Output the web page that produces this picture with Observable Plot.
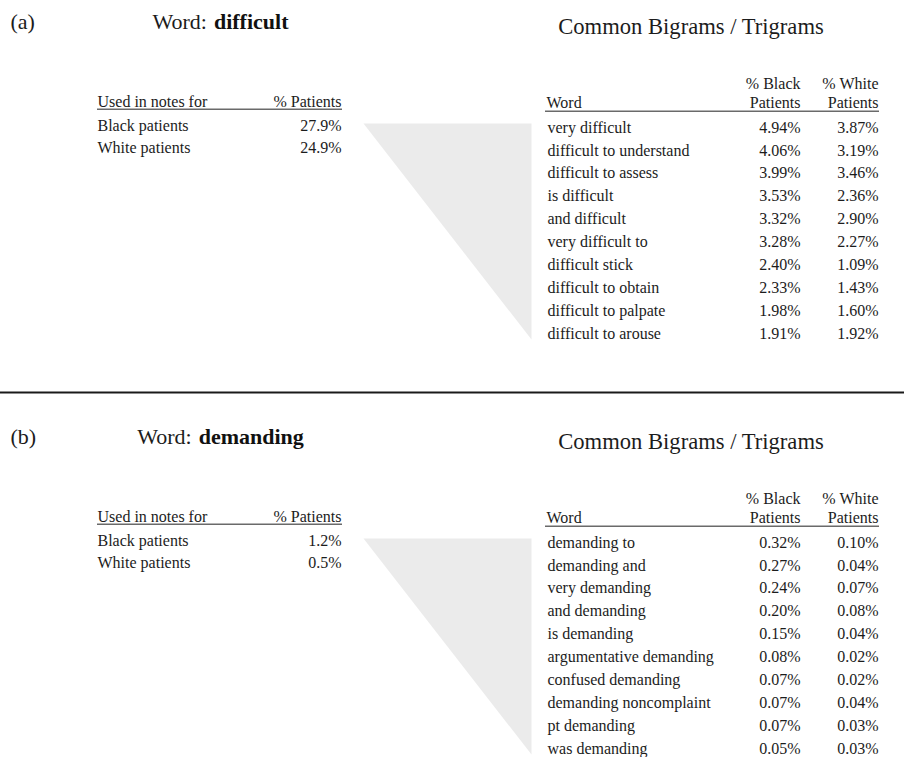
<!DOCTYPE html>
<html>
<head>
<meta charset="utf-8">
<script src="https://cdn.jsdelivr.net/npm/d3@7"></script>
<script src="https://cdn.jsdelivr.net/npm/@observablehq/plot@0.6"></script>
<style>
  html, body { margin: 0; padding: 0; background: #fff; }
  #chart svg { display: block; }
</style>
</head>
<body>
<div id="chart"></div>
<script>
// ---------- Data ----------
const panelLabels = ["(a)", "(b)"];
const panelWords = ["difficult", "demanding"];
const patientGroups = ["Black patients", "White patients"];
const difficultPct = [27.9, 24.9];
const demandingPct = [1.2, 0.5];

const difficultNgrams = ["very difficult", "difficult to understand", "difficult to assess", "is difficult",
  "and difficult", "very difficult to", "difficult stick", "difficult to obtain", "difficult to palpate", "difficult to arouse"];
const difficultBlack = [4.94, 4.06, 3.99, 3.53, 3.32, 3.28, 2.40, 2.33, 1.98, 1.91];
const difficultWhite = [3.87, 3.19, 3.46, 2.36, 2.90, 2.27, 1.09, 1.43, 1.60, 1.92];

const demandingNgrams = ["demanding to", "demanding and", "very demanding", "and demanding", "is demanding",
  "argumentative demanding", "confused demanding", "demanding noncomplaint", "pt demanding", "was demanding"];
const demandingBlack = [0.32, 0.27, 0.24, 0.20, 0.15, 0.08, 0.07, 0.07, 0.07, 0.05];
const demandingWhite = [0.10, 0.04, 0.07, 0.08, 0.04, 0.02, 0.02, 0.04, 0.03, 0.03];

const leftHeaders = ["Used in notes for", "% Patients"];
const rightHeaders = ["Word", "% Black", "% White", "Patients"];
const rightTitle = "Common Bigrams / Trigrams";

// ---------- Layout ----------
const W = 904, H = 757;
const FONT = "'Liberation Serif', 'Times New Roman', serif";
const INK = "#1c1c1c";
const panelOffset = 415;
const titleSize = 22, bigTitleSize = 22.6, tableSize = 16;
const mid = (baseline, size) => baseline - 0.32 * size;

const L = {labelX: 10, titleCX: 220, titleBase: 28.5, bigTitleCX: 690.5, bigTitleBase: 33,
  lx0: 97, lx1: 342, lHeadBase: 106, lRule: 108.8, lRow0: 130, lRowStep: 22.5,
  rx0: 546, rxB: 800, rxW: 878, rRule0: 545, rRule1: 879, rHead1Base: 88, rHead2Base: 107, rRule: 110.7,
  rRow0: 127, rRowStep: 22.9, triLeft: 363, triRight: 531};

const canvas = document.createElement("canvas");
const ctx = canvas.getContext("2d");
function measure(text, weight, size) {
  ctx.font = `${weight} ${size}px ${FONT}`;
  return ctx.measureText(text).width;
}

const panels = [
  {label: panelLabels[0], word: panelWords[0], pct: difficultPct, ngrams: difficultNgrams, black: difficultBlack, white: difficultWhite},
  {label: panelLabels[1], word: panelWords[1], pct: demandingPct, ngrams: demandingNgrams, black: demandingBlack, white: demandingWhite}
];

const marks = [];
const fmt2 = v => v.toFixed(2) + "%";
const fmt1 = v => v.toFixed(1) + "%";

panels.forEach((p, k) => {
  const o = k * panelOffset;
  // triangle (connector)
  const nRows = p.ngrams.length;
  const triTop = o + L.rRow0 - 4;
  const triBot = o + L.rRow0 + (nRows - 1) * L.rRowStep + 6;
  const tri = [{x: L.triLeft, y: triTop}, {x: L.triRight, y: triTop}, {x: L.triRight, y: triBot}, {x: L.triLeft, y: triTop}];
  marks.push(Plot.line(tri, {x: "x", y: "y", fill: "#ebebeb", stroke: "none"}));

  // panel label
  marks.push(Plot.text([p.label], {x: L.labelX, y: o + mid(L.titleBase, titleSize), text: d => d,
    textAnchor: "start", fontSize: titleSize, fill: INK}));

  // "Word: <bold>"
  const w1 = measure("Word:", "normal", titleSize);
  const gap = 7;
  const w2 = measure(p.word, "bold", titleSize);
  const start = L.titleCX - (w1 + gap + w2) / 2;
  marks.push(Plot.text(["Word:"], {x: start, y: o + mid(L.titleBase, titleSize), text: d => d,
    textAnchor: "start", fontSize: titleSize, fill: INK}));
  marks.push(Plot.text([p.word], {x: start + w1 + gap, y: o + mid(L.titleBase, titleSize), text: d => d,
    textAnchor: "start", fontSize: titleSize, fontWeight: "bold", fill: "#111"}));

  // Right title
  marks.push(Plot.text([rightTitle], {x: L.bigTitleCX, y: o + mid(L.bigTitleBase, bigTitleSize), text: d => d,
    textAnchor: "middle", fontSize: bigTitleSize, fill: INK}));

  // Left table
  marks.push(Plot.text([leftHeaders[0]], {x: L.lx0, y: o + mid(L.lHeadBase, tableSize), text: d => d,
    textAnchor: "start", fontSize: tableSize, fill: INK}));
  marks.push(Plot.text([leftHeaders[1]], {x: L.lx1 - 1, y: o + mid(L.lHeadBase, tableSize), text: d => d,
    textAnchor: "end", fontSize: tableSize, fill: INK}));
  marks.push(Plot.ruleY([o + L.lRule], {x1: L.lx0, x2: L.lx1, stroke: "#6a6a6a", strokeWidth: 1.6}));
  const leftRows = patientGroups.map((g, i) => ({g, v: p.pct[i], i}));
  marks.push(Plot.text(leftRows, {x: L.lx0, y: d => o + mid(L.lRow0 + d.i * L.lRowStep, tableSize), text: "g",
    textAnchor: "start", fontSize: tableSize, fill: INK}));
  marks.push(Plot.text(leftRows, {x: L.lx1 - 1, y: d => o + mid(L.lRow0 + d.i * L.lRowStep, tableSize), text: d => fmt1(d.v),
    textAnchor: "end", fontSize: tableSize, fill: INK}));

  // Right table headers
  marks.push(Plot.text([rightHeaders[0]], {x: L.rx0, y: o + mid(L.rHead2Base, tableSize), text: d => d,
    textAnchor: "start", fontSize: tableSize, fill: INK}));
  marks.push(Plot.text([rightHeaders[1], rightHeaders[3]], {x: L.rxB, y: (d, i) => o + mid(i ? L.rHead2Base : L.rHead1Base, tableSize), text: d => d,
    textAnchor: "end", fontSize: tableSize, fill: INK}));
  marks.push(Plot.text([rightHeaders[2], rightHeaders[3]], {x: L.rxW, y: (d, i) => o + mid(i ? L.rHead2Base : L.rHead1Base, tableSize), text: d => d,
    textAnchor: "end", fontSize: tableSize, fill: INK}));
  marks.push(Plot.ruleY([o + L.rRule], {x1: L.rRule0, x2: L.rRule1, stroke: "#6a6a6a", strokeWidth: 1.6}));

  const rows = p.ngrams.map((w, i) => ({w, b: p.black[i], wh: p.white[i], i}));
  const ry = d => o + L.rRow0 + d.i * L.rRowStep;
  marks.push(Plot.text(rows, {x: L.rx0 + 1, y: ry, text: "w", textAnchor: "start", fontSize: tableSize, fill: INK}));
  marks.push(Plot.text(rows, {x: L.rxB, y: ry, text: d => fmt2(d.b), textAnchor: "end", fontSize: tableSize, fill: INK}));
  marks.push(Plot.text(rows, {x: L.rxW, y: ry, text: d => fmt2(d.wh), textAnchor: "end", fontSize: tableSize, fill: INK}));
});

// separator between panels
marks.push(Plot.ruleY([392], {x1: 0, x2: W, stroke: "#1a1a1a", strokeWidth: 2}));

const chart = Plot.plot({
  width: W,
  height: H,
  margin: 0,
  x: {type: "identity", axis: null},
  y: {type: "identity", axis: null},
  style: {background: "#fff", fontFamily: FONT, color: INK},
  marks
});
document.getElementById("chart").appendChild(chart);
</script>
</body>
</html>
